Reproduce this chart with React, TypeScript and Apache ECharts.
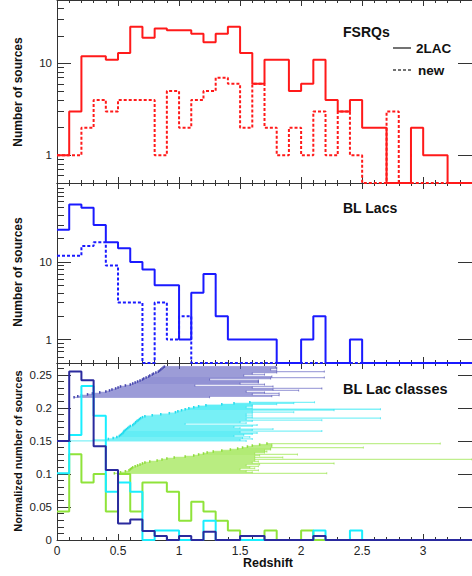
import React, { useEffect, useRef } from "react";
import * as echarts from "echarts";

// ---------- data ----------
const X_MIN = 0;
const X_MAX = 3.4;
const xMajorTicks = [0, 0.5, 1, 1.5, 2, 2.5, 3];

// Top panel: FSRQ counts per 0.1 redshift bin (starting at z = 0)
const fsrq2LAC = [1, 3, 12, 12, 11, 13, 25, 19, 24, 23, 23, 21, 17, 21, 25, 13, 6, 11, 11, 5, 6, 11, 4, 3, 4, 2, 2, 0, 0, 2, 1, 1, 0, 0];
const fsrqNew = [1, 1, 2, 4, 3, 4, 4, 4, 1, 5, 2, 4, 5, 7, 6, 2, 6, 2, 1, 2, 1, 3, 1, 3, 1, 0, 0, 3, 0, 0, 0, 0, 0, 0];

// Middle panel: BL Lac counts per 0.1 bin
const bll2LAC = [26, 55, 50, 30, 18, 15, 10, 8, 5, 5, 1, 4, 7, 2, 1, 1, 1, 1, 0, 0, 1, 2, 0, 0, 1, 0, 0, 0, 0, 0, 0, 0, 0, 0];
const bllNew = [12, 12, 16, 18, 9, 3, 3, 0, 3, 1, 2, 0, 0, 0, 0, 0, 0, 0, 0, 0, 0, 0, 0, 0, 0, 0, 0, 0, 0, 0, 0, 0, 0, 0];

// Bottom panel: normalized distributions of three BL Lac classes
const classNavy = [0.15, 0.255, 0.242, 0.142, 0.106, 0.025, 0.031, 0.0136, 0.006, 0, 0.006, 0, 0.0125, 0, 0, 0.006, 0.006, 0, 0, 0, 0, 0.006, 0, 0, 0, 0, 0, 0, 0, 0, 0, 0, 0, 0];
const classCyan = [0.101, 0.159, 0.233, 0.188, 0.073, 0.087, 0.073, 0, 0.0145, 0.0145, 0, 0, 0.029, 0, 0, 0, 0, 0, 0, 0, 0, 0.0145, 0, 0, 0.0145, 0, 0, 0, 0, 0, 0, 0, 0, 0];
const classGreen = [0.043, 0.13, 0.087, 0.1, 0.043, 0.1, 0.043, 0.087, 0.087, 0.073, 0.029, 0.058, 0.043, 0.029, 0.0145, 0, 0, 0.0145, 0, 0, 0.0145, 0, 0, 0, 0, 0, 0, 0, 0, 0, 0, 0, 0, 0];

// Redshift ranges (lower limit, upper limit) drawn as stacked horizontal bars
const navyBandY = [0.216, 0.2175, 0.219, 0.2205, 0.222, 0.2235, 0.225, 0.2265, 0.228, 0.2295, 0.231, 0.2325, 0.234, 0.2355, 0.237, 0.2385, 0.24, 0.2415, 0.243, 0.2445, 0.246, 0.2475, 0.249, 0.2505, 0.252, 0.2535, 0.255, 0.2565, 0.258, 0.2595, 0.261, 0.2625];
const navyBandLo = [0.14, 0.17, 0.2, 0.25, 0.29, 0.35, 0.4, 0.43, 0.45, 0.48, 0.5, 0.52, 0.56, 0.6, 0.62, 0.64, 0.66, 0.68, 0.7, 0.71, 0.73, 0.75, 0.76, 0.78, 0.79, 0.81, 0.83, 0.84, 0.85, 0.86, 0.87, 0.88];
const navyBandHi = [1.25, 1.76, 1.82, 1.6, 1.82, 1.7, 1.55, 1.98, 1.77, 2.17, 1.6, 1.77, 1.13, 1.7, 1.5, 1.65, 1.65, 1.65, 1.25, 1.75, 2.19, 1.76, 1.53, 1.7, 1.6, 1.8, 2.19, 1.8, 1.75, 1.8, 1.8, 1.79];

const cyanBandY = [0.15, 0.1515, 0.153, 0.1545, 0.156, 0.1575, 0.159, 0.1605, 0.162, 0.1635, 0.165, 0.1665, 0.168, 0.1695, 0.171, 0.1725, 0.174, 0.1755, 0.177, 0.1785, 0.18, 0.1815, 0.183, 0.1845, 0.186, 0.1875, 0.189, 0.1905, 0.192, 0.1935, 0.195, 0.1965, 0.198, 0.1995, 0.201, 0.2025, 0.204, 0.2055, 0.207, 0.2085];
const cyanBandLo = [0.1, 0.3, 0.42, 0.46, 0.49, 0.51, 0.52, 0.53, 0.54, 0.545, 0.55, 0.56, 0.57, 0.58, 0.59, 0.6, 0.62, 0.63, 0.64, 0.645, 0.655, 0.665, 0.675, 0.685, 0.7, 0.72, 0.78, 0.85, 0.92, 0.97, 0.99, 1.02, 1.05, 1.08, 1.12, 1.16, 1.22, 1.35, 1.45, 1.58];
const cyanBandHi = [1.55, 1.5, 1.6, 1.52, 1.58, 1.45, 1.53, 1.6, 1.64, 1.5, 2.17, 1.6, 1.77, 1.5, 1.45, 1.6, 1.64, 1.05, 1.55, 1.5, 1.6, 2.17, 1.55, 2.65, 1.6, 1.55, 1.6, 1.55, 1.6, 1.94, 1.6, 2.27, 2.65, 1.6, 1.55, 1.6, 1.6, 1.8, 1.94, 2.11];

const greenBandY = [0.101, 0.1025, 0.104, 0.1055, 0.107, 0.1085, 0.11, 0.1115, 0.113, 0.1145, 0.116, 0.1175, 0.119, 0.1205, 0.122, 0.1235, 0.125, 0.1265, 0.128, 0.1295, 0.131, 0.1325, 0.134, 0.1355, 0.137, 0.1385, 0.14, 0.1415, 0.143, 0.1445, 0.146];
const greenBandLo = [0.47, 0.52, 0.56, 0.59, 0.6, 0.61, 0.62, 0.64, 0.66, 0.68, 0.7, 0.72, 0.76, 0.82, 0.86, 0.9, 0.96, 1.05, 1.12, 1.16, 1.2, 1.23, 1.28, 1.35, 1.42, 1.48, 1.52, 1.56, 1.6, 1.66, 1.72];
const greenBandHi = [2.21, 1.6, 1.55, 1.65, 1.5, 1.62, 1.58, 1.65, 1.55, 1.66, 2.27, 1.6, 1.65, 1.62, 3.5, 1.62, 1.85, 1.62, 1.66, 1.97, 1.62, 1.7, 1.72, 1.7, 1.75, 1.75, 2.51, 1.76, 1.76, 1.76, 3.14];

const logMajorTop = [1, 10];
const logMinorTop = [0.6, 0.7, 0.8, 0.9, 2, 3, 4, 5, 6, 7, 8, 9, 20, 30, 40];
const logMajorMid = [1, 10];
const logMinorMid = [0.6, 0.7, 0.8, 0.9, 2, 3, 4, 5, 6, 7, 8, 9, 20, 30, 40, 50, 60, 70, 80, 90];
const linMajor = [0, 0.05, 0.1, 0.15, 0.2, 0.25];
const linMinor = [0.01, 0.02, 0.03, 0.04, 0.06, 0.07, 0.08, 0.09, 0.11, 0.12, 0.13, 0.14, 0.16, 0.17, 0.18, 0.19, 0.21, 0.22, 0.23, 0.24, 0.26];

// ---------- styling ----------
const FONT = "'Liberation Sans', Arial, Helvetica, sans-serif";
const AXIS_COLOR = "#333";
const LABEL_COLOR = "#222";
const LOG_MIN = 0.5;
const TOP_MAX = 49;
const MID_MAX = 104;

const RED = "#ff1a1a";
const BLUE = "#1a1aff";
const NAVY = "#2a2a9e";
const CYAN = "#19eeff";
const GREEN = "#8fe33a";

const lg = (v: number) => Math.log10(v);

function stepPoints(vals: number[], transform: (v: number) => number) {
  const pts: number[][] = vals.map((v, i) => [i / 10, transform(v)]);
  pts.push([vals.length / 10, transform(vals[vals.length - 1])]);
  return pts;
}
const logT = (v: number) => (v > 0 ? lg(v) : lg(LOG_MIN));
const linT = (v: number) => v;

const xMinorTicks: number[] = [];
for (let i = 0; i <= 34; i++) {
  const v = i / 10;
  if (!xMajorTicks.some((m) => Math.abs(m - v) < 1e-9)) xMinorTicks.push(v);
}

function xAxesFor(g: number, showLabels: boolean) {
  const base = {
    type: "value",
    gridIndex: g,
    min: X_MIN,
    max: X_MAX,
    splitLine: { show: false },
  };
  return [
    {
      ...base,
      position: "bottom",
      axisLine: { show: true, onZero: false, lineStyle: { color: AXIS_COLOR, width: 1 } },
      axisTick: { show: true, inside: true, length: 6, customValues: xMajorTicks, lineStyle: { color: AXIS_COLOR } },
      axisLabel: showLabels
        ? { show: true, customValues: xMajorTicks, margin: 5, fontSize: 12, color: LABEL_COLOR, fontFamily: FONT }
        : { show: false },
    },
    {
      ...base,
      position: "bottom",
      axisLine: { show: false, onZero: false },
      axisTick: { show: true, inside: true, length: 3, customValues: xMinorTicks, lineStyle: { color: AXIS_COLOR } },
      axisLabel: { show: false },
    },
    {
      ...base,
      position: "top",
      axisLine: { show: true, onZero: false, lineStyle: { color: AXIS_COLOR, width: 1 } },
      axisTick: { show: true, inside: true, length: 6, customValues: xMajorTicks, lineStyle: { color: AXIS_COLOR } },
      axisLabel: { show: false },
    },
    {
      ...base,
      position: "top",
      axisLine: { show: false, onZero: false },
      axisTick: { show: true, inside: true, length: 3, customValues: xMinorTicks, lineStyle: { color: AXIS_COLOR } },
      axisLabel: { show: false },
    },
  ];
}

function yAxesFor(g: number, min: number, max: number, major: number[], minor: number[], fmt: (v: number) => string) {
  const base = { type: "value", gridIndex: g, min, max, splitLine: { show: false } };
  return [
    {
      ...base,
      position: "left",
      axisLine: { show: true, onZero: false, lineStyle: { color: AXIS_COLOR, width: 1 } },
      axisTick: { show: true, inside: true, length: 14, customValues: major, lineStyle: { color: AXIS_COLOR } },
      axisLabel: { show: true, customValues: major, formatter: fmt, margin: 5, fontSize: 11.5, color: LABEL_COLOR, fontFamily: FONT },
    },
    {
      ...base,
      position: "left",
      axisLine: { show: false, onZero: false },
      axisTick: { show: true, inside: true, length: 7, customValues: minor, lineStyle: { color: AXIS_COLOR } },
      axisLabel: { show: false },
    },
    {
      ...base,
      position: "right",
      axisLine: { show: true, onZero: false, lineStyle: { color: AXIS_COLOR, width: 1 } },
      axisTick: { show: true, inside: true, length: 14, customValues: major, lineStyle: { color: AXIS_COLOR } },
      axisLabel: { show: false },
    },
  ];
}

function histSeries(name: string, vals: number[], t: (v: number) => number, g: number, color: string, dotted: boolean, z: number) {
  return {
    name,
    type: "line",
    xAxisIndex: g * 4,
    yAxisIndex: g * 3,
    data: stepPoints(vals, t),
    step: "end",
    showSymbol: false,
    symbol: "none",
    z,
    lineStyle: { color, width: 2, type: dotted ? [3, 2] : "solid" },
  };
}

function bandSeries(lo: number[], hi: number[], ys: number[], stroke: string, marker: string) {
  const data = lo.map((l, i) => [l, hi[i], ys[i]]);
  return {
    type: "custom",
    xAxisIndex: 8,
    yAxisIndex: 6,
    z: 1,
    clip: true,
    encode: { x: [0, 1], y: 2 },
    data,
    renderItem: (_params: any, api: any) => {
      const y = api.value(2);
      const p1 = api.coord([api.value(0), y]);
      const p2 = api.coord([Math.min(api.value(1), X_MAX), y]);
      return {
        type: "group",
        children: [
          { type: "line", shape: { x1: p1[0], y1: p1[1], x2: p2[0], y2: p2[1] }, style: { stroke, lineWidth: 1.3 } },
          { type: "rect", shape: { x: p1[0] - 0.75, y: p1[1] - 1.25, width: 1.5, height: 2.5 }, style: { fill: marker } },
          { type: "rect", shape: { x: p2[0] - 0.5, y: p2[1] - 1, width: 1, height: 2 }, style: { fill: marker, opacity: 0.6 } },
        ],
      };
    },
  };
}

function buildOption() {
  const fmtLog = (v: number) => String(Math.round(Math.pow(10, v)));
  const fmtLin = (v: number) => String(Math.round(v * 100) / 100);
  const titleStyle = { fontFamily: FONT, fontWeight: "bold", fill: "#111" };
  return {
    animation: false,
    backgroundColor: "#fff",
    grid: [
      { left: 57, top: 0, width: 422, height: 183 },
      { left: 57, top: 183, width: 422, height: 180 },
      { left: 57, top: 363, width: 422, height: 177 },
    ],
    xAxis: [...xAxesFor(0, false), ...xAxesFor(1, false), ...xAxesFor(2, true)],
    yAxis: [
      ...yAxesFor(0, lg(LOG_MIN), lg(TOP_MAX), logMajorTop.map(lg), logMinorTop.map(lg), fmtLog),
      ...yAxesFor(1, lg(LOG_MIN), lg(MID_MAX), logMajorMid.map(lg), logMinorMid.map(lg), fmtLog),
      ...yAxesFor(2, 0, 0.268, linMajor, linMinor, fmtLin),
    ],
    series: [
      histSeries("FSRQ 2LAC", fsrq2LAC, logT, 0, RED, false, 3),
      histSeries("FSRQ new", fsrqNew, logT, 0, RED, true, 3),
      histSeries("BL Lac 2LAC", bll2LAC, logT, 1, BLUE, false, 3),
      histSeries("BL Lac new", bllNew, logT, 1, BLUE, true, 3),
      bandSeries(navyBandLo, navyBandHi, navyBandY, "rgba(80,80,185,0.5)", "#4646ae"),
      bandSeries(cyanBandLo, cyanBandHi, cyanBandY, "rgba(0,228,242,0.5)", "#22dcee"),
      bandSeries(greenBandLo, greenBandHi, greenBandY, "rgba(140,225,50,0.55)", "#8edc3a"),
      histSeries("class 3", classGreen, linT, 2, GREEN, false, 3),
      histSeries("class 2", classCyan, linT, 2, CYAN, false, 4),
      histSeries("class 1", classNavy, linT, 2, NAVY, false, 5),
    ],
    graphic: [
      { type: "text", x: 343, y: 32, style: { ...titleStyle, text: "FSRQs", fontSize: 14, textVerticalAlign: "middle" } },
      { type: "line", shape: { x1: 393, y1: 48, x2: 411, y2: 48 }, style: { stroke: "#444", lineWidth: 1.5 } },
      { type: "text", x: 416, y: 48, style: { ...titleStyle, text: "2LAC", fontSize: 13.5, textVerticalAlign: "middle" } },
      { type: "line", shape: { x1: 393, y1: 70, x2: 411, y2: 70 }, style: { stroke: "#444", lineWidth: 1.5, lineDash: [3, 2] } },
      { type: "text", x: 418, y: 70, style: { ...titleStyle, text: "new", fontSize: 13.5, textVerticalAlign: "middle" } },
      { type: "text", x: 343, y: 208, style: { ...titleStyle, text: "BL Lacs", fontSize: 14, textVerticalAlign: "middle" } },
      { type: "text", x: 343, y: 389, style: { ...titleStyle, text: "BL Lac classes", fontSize: 14.5, textVerticalAlign: "middle" } },
      { type: "text", x: 18, y: 92, rotation: Math.PI / 2, style: { ...titleStyle, text: "Number of sources", fontSize: 12, textAlign: "center", textVerticalAlign: "middle" } },
      { type: "text", x: 18, y: 272, rotation: Math.PI / 2, style: { ...titleStyle, text: "Number of sources", fontSize: 12, textAlign: "center", textVerticalAlign: "middle" } },
      { type: "text", x: 18, y: 451, rotation: Math.PI / 2, style: { ...titleStyle, text: "Normalized number of sources", fontSize: 11, textAlign: "center", textVerticalAlign: "middle" } },
      { type: "text", x: 268, y: 563, style: { ...titleStyle, text: "Redshift", fontSize: 12.5, textAlign: "center", textVerticalAlign: "middle" } },
    ],
  };
}

export default function App() {
  const ref = useRef<HTMLDivElement>(null);
  useEffect(() => {
    document.body.style.margin = "0";
    if (!ref.current) return;
    const chart = echarts.init(ref.current, null, { renderer: "svg" });
    chart.setOption(buildOption() as any);
    return () => chart.dispose();
  }, []);
  return <div ref={ref} style={{ width: 472, height: 576, background: "#fff" }} />;
}
